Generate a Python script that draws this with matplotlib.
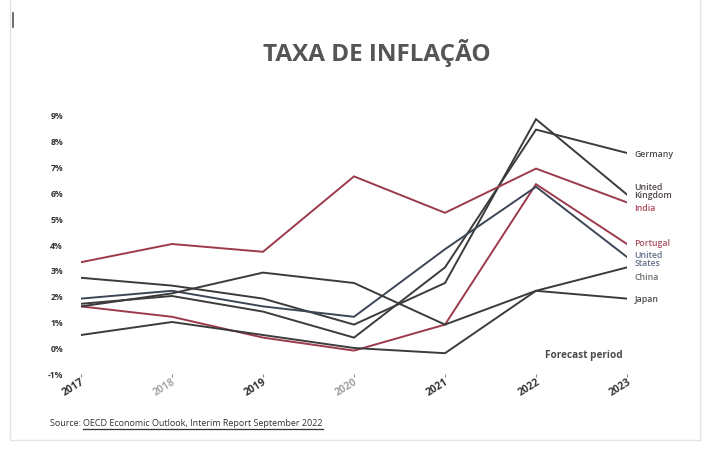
import matplotlib
matplotlib.use("Agg")
import matplotlib.pyplot as plt
from matplotlib.lines import Line2D

# ── data ──────────────────────────────────────────────────────────────────────
years = [2017, 2018, 2019, 2020, 2021, 2022, 2023]
year_labels = ["2017", "2018", "2019", "2020", "2021", "2022", "2023"]
year_label_colors = ["#333333", "#a8a8a8", "#333333", "#a0a0a0", "#333333", "#3a3a3a", "#3a3a3a"]

germany = [1.7, 2.0, 1.4, 0.4, 3.1, 8.4, 7.5]
uk = [2.7, 2.4, 1.9, 0.9, 2.5, 8.8, 5.9]
india = [3.3, 4.0, 3.7, 6.6, 5.2, 6.9, 5.6]
portugal = [1.6, 1.2, 0.4, -0.1, 0.9, 6.3, 4.0]
us = [1.9, 2.2, 1.6, 1.2, 3.8, 6.2, 3.5]
china = [1.6, 2.1, 2.9, 2.5, 0.9, 2.2, 3.1]
japan = [0.5, 1.0, 0.5, 0.0, -0.2, 2.2, 1.9]

y_ticks = [-1, 0, 1, 2, 3, 4, 5, 6, 7, 8, 9]
y_tick_labels = ["-1%", "0%", "1%", "2%", "3%", "4%", "5%", "6%", "7%", "8%", "9%"]

DARK = "#3b3b3b"
RED = "#9c3a4c"
SLATE = "#3c4656"

series = [
    # name, values, line colour, label text, label colour, label y-offset
    ("Germany", germany, DARK, "Germany", "#4a4a4a", 0.0),
    ("United Kingdom", uk, DARK, "United\nKingdom", "#4f4448", 0.15),
    ("India", india, RED, "India", "#b04a5c", -0.18),
    ("Portugal", portugal, RED, "Portugal", "#a8505e", 0.05),
    ("United States", us, SLATE, "United\nStates", "#627088", -0.07),
    ("China", china, DARK, "China", "#6a6a6a", -0.35),
    ("Japan", japan, DARK, "Japan", "#4a4a4a", 0.0),
]

W, H = 707, 477
fig = plt.figure(figsize=(W / 100, H / 100), dpi=100)
fig.patch.set_facecolor("white")

# axes placed to match pixel geometry of the reference
x0, x1 = 81, 627
y_top, y_bot = 115, 375
ax = fig.add_axes([x0 / W, 1 - y_bot / H, (x1 - x0) / W, (y_bot - y_top) / H])
ax.set_facecolor("none")

for name, vals, col, lbl, lcol, dy in series:
    ax.plot(years, vals, color=col, lw=1.4, solid_joinstyle="miter", zorder=3)
    ax.text(2023.08, vals[-1] + dy, lbl, fontsize=6.3, color=lcol,
            ha="left", va="center", linespacing=0.9, family="Open Sans",
            fontweight="semibold", zorder=4)

ax.set_xlim(2017, 2023)
ax.set_ylim(-1, 9)
for s in ax.spines.values():
    s.set_visible(False)

ax.set_yticks(y_ticks)
ax.set_yticklabels(y_tick_labels, fontsize=6.2, color="#333333", family="Open Sans",
                   fontweight="bold")
ax.tick_params(axis="y", length=0, pad=13)

ax.set_xticks(years)
ax.set_xticklabels(year_labels, rotation=32, fontsize=7.5, family="Open Sans",
                   fontweight="bold", ha="right", rotation_mode="anchor")
for t, c in zip(ax.get_xticklabels(), year_label_colors):
    t.set_color(c)
ax.tick_params(axis="x", length=2, width=0.8, color="#888888", pad=-1)

ax.text(2022.1, -0.25, "Forecast period", fontsize=7.2, color="#4a4a4a",
        family="Open Sans", fontweight="bold", ha="left", va="center")

# title
fig.text(377 / W, 1 - 53 / H, "TAXA DE INFLAÇÃO", fontsize=17.5, fontweight="bold",
         color="#555555", family="Open Sans", ha="center", va="center")

# source line with underlined link
src1 = fig.text(50 / W, 1 - 424 / H, "Source: ", fontsize=6.5, color="#333333",
                family="Open Sans", ha="left", va="center")
fig.canvas.draw()
r = fig.canvas.get_renderer()
bb = src1.get_window_extent(r)
src2 = fig.text(bb.x1 / W, 1 - 424 / H, "OECD Economic Outlook, Interim Report September 2022",
                fontsize=6.5, color="#333333", family="Open Sans", ha="left", va="center")
bb2 = src2.get_window_extent(r)
fig.add_artist(Line2D([bb2.x0 / W, bb2.x1 / W], [(bb2.y0 - 1) / H] * 2,
                      color="#333333", lw=0.9))

# faint frame and the small stray mark at the top-left
frame = dict(color="#e4e4e4", lw=1.0)
fig.add_artist(Line2D([10 / W, 10 / W], [1 - 441 / H, 1.0], **frame))
fig.add_artist(Line2D([700 / W, 700 / W], [1 - 441 / H, 1.0], **frame))
fig.add_artist(Line2D([10 / W, 700 / W], [1 - 441 / H, 1 - 441 / H], **frame))
fig.add_artist(Line2D([13 / W, 13 / W], [1 - 28 / H, 1 - 14 / H], color="#555555", lw=1.2))

fig.savefig("out.png", dpi=100)
